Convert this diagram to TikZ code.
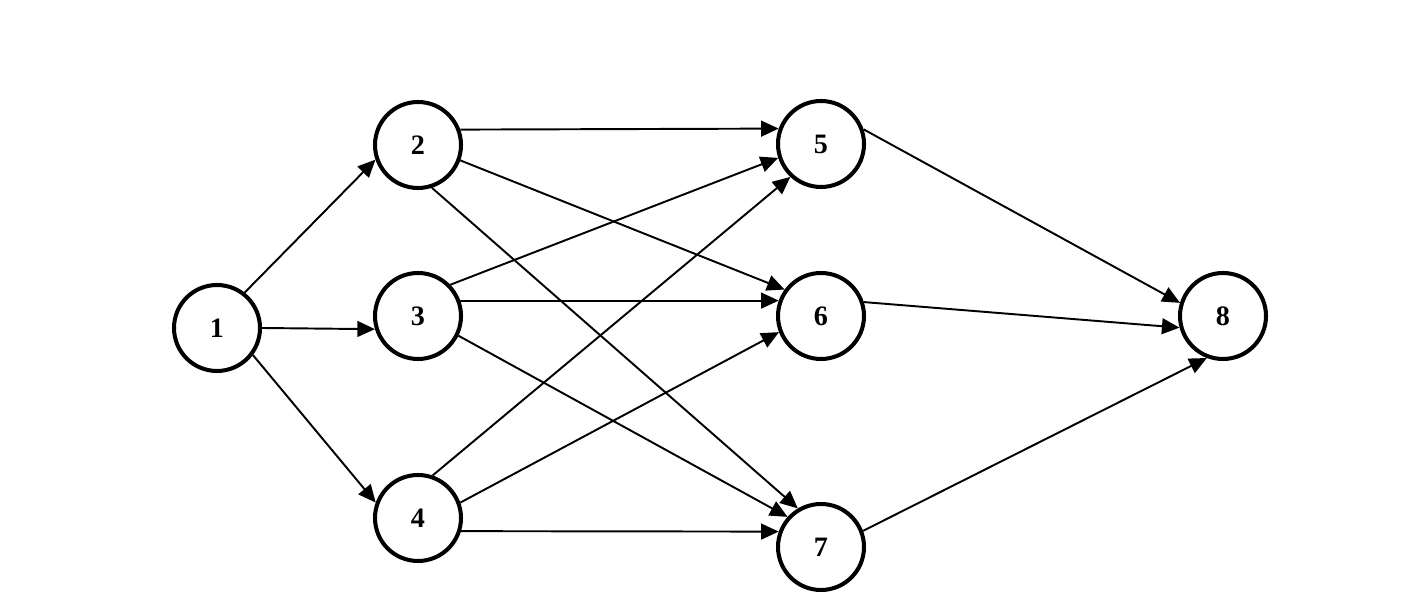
\documentclass[tikz,border=0pt]{standalone}
\usepackage{fontspec}
\setmainfont{Liberation Serif}
\usepackage{tikz}
\usetikzlibrary{arrows.meta}
\usetikzlibrary{calc}
\usetikzlibrary{positioning}
\begin{document}
\begin{tikzpicture}[>={Triangle[length=10pt,width=9pt]},
    state/.style={draw=black, circle, line width=2.3pt, minimum size=1.72cm, inner sep=0pt,
      font=\fontsize{16}{18}\selectfont\bfseries},
    every edge/.style={draw, line width=1.1pt}]
    \useasboundingbox (0,0) rectangle (28.12,12.1);
    \node[state] (A) at (4.34,5.54) {1};
    \node[state] (B) at (8.36,9.2) {2};
    \node[state] (C) at (8.36,5.78) {3};
    \node[state] (D) at (8.36,1.74) {4};
    \node[state] (E) at (16.42,9.22) {5};
    \node[state] (F) at (16.42,5.78) {6};
    \node[state] (G) at (16.42,1.16) {7};
    \node[state] (H) at (24.46,5.78) {8};
    \path [->] (A.52) edge (B.-161);
    \path [->] (A.0) edge (C.-163);
    \path [->] (A.-37) edge (D.160);
    \path [->] (B.20) edge (E.160);
    \path [->] (B.-20) edge (F.144);
    \path [->] (B.-72) edge (G.121);
    \path [->] (C.44) edge (E.-162);
    \path [->] (C.20) edge (F.160);
    \path [->] (C.-26) edge (G.138);
    \path [->] (D.71) edge (E.-133);
    \path [->] (D.20) edge (F.-159);
    \path [->] (D.-17) edge (G.160);
    \path [->] (E.19) edge (H.163);
    \path [->] (F.18) edge (H.-165);
    \path [->] (G.21) edge (H.-111);
  \end{tikzpicture}
\end{document}
